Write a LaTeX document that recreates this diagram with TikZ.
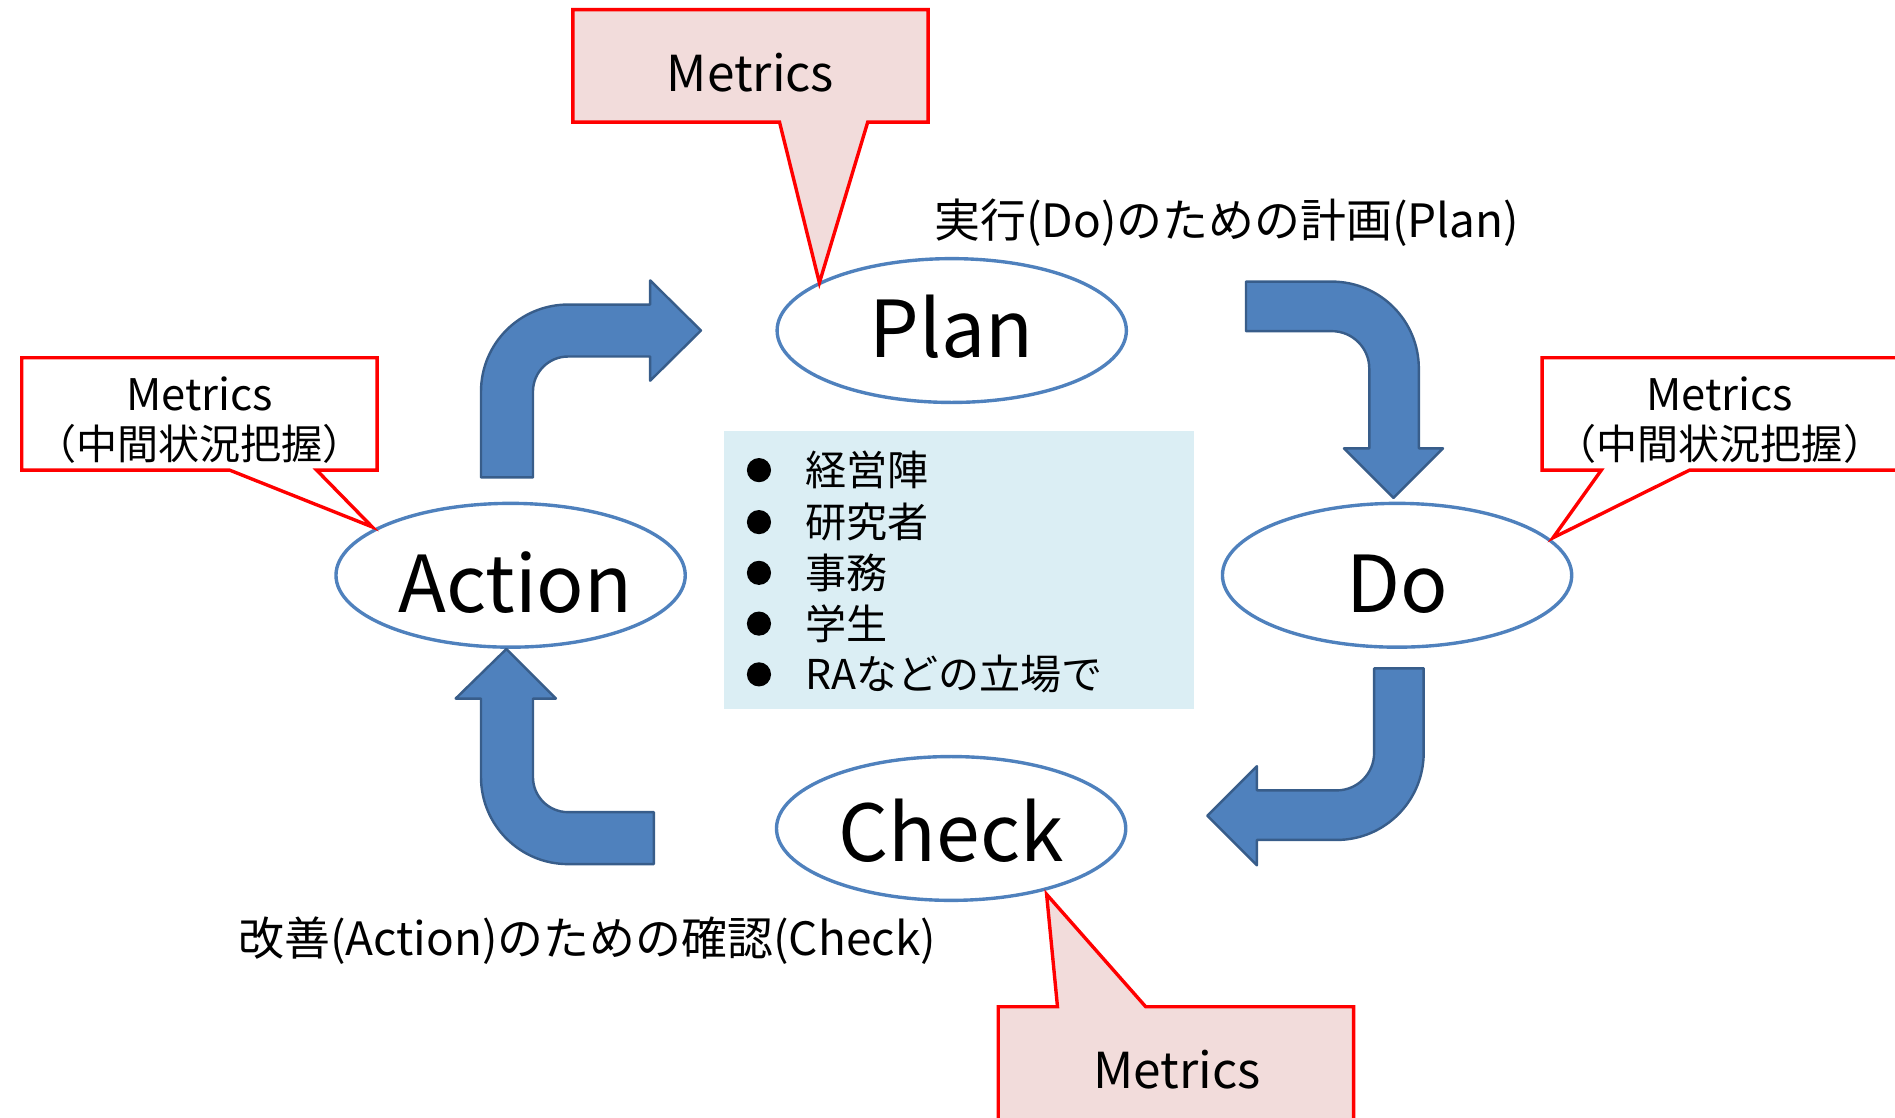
\documentclass[tikz,border=0pt]{standalone}
\usepackage{fontspec}
\setmainfont{Noto Sans CJK JP}
\usetikzlibrary{shapes.geometric}
\definecolor{arrowfill}{HTML}{4F81BD}
\definecolor{arrowline}{HTML}{385D8A}
\definecolor{calloutfill}{HTML}{F2DCDB}
\definecolor{listfill}{HTML}{DBEEF4}
% set a phase name with its capitals placed a given distance below the centre
\newcommand{\phasetext}[2]{\raisebox{-#1}[0pt][0pt]{#2}}

\begin{document}
\begin{tikzpicture}[x=1pt,y=-1pt,
  phase/.style={ellipse, draw=arrowfill, line width=2.8pt, fill=white,
    minimum width=289pt, minimum height=119pt, inner sep=0pt,
    font=\fontsize{65}{70}\selectfont},
  blockarrow/.style={fill=arrowfill, draw=arrowline, line width=2pt, line join=round},
  callout/.style={draw=red, line width=2.8pt, line join=miter},
  bigmetric/.style={inner sep=0pt, font=\fontsize{41}{45}\selectfont},
  sidemetric/.style={inner sep=0pt, font=\fontsize{36}{40}\selectfont},
  sidenote/.style={inner sep=0pt, font=\fontsize{34}{38}\selectfont},
  caption/.style={inner sep=0pt, anchor=west, font=\fontsize{38}{42}\selectfont},
  item/.style={inner sep=0pt, anchor=west, font=\fontsize{34}{38}\selectfont},
  dot/.style={circle, fill=black, minimum size=20pt, inner sep=0pt}]
\useasboundingbox (0,0) rectangle (1568,925);
\clip (0,0) rectangle (1568,925);

% the four phases
\node[phase] (plan)   at (787.5,273.5) {\phasetext{22.5pt}{Plan}};
\node[phase] (do)     at (1156,476)    {\phasetext{31pt}{Do}};
\node[phase] (check)  at (787,685.5)   {\phasetext{27.5pt}{Check}};
\node[phase] (action) at (422.5,476)   {\hspace*{8pt}\phasetext{31pt}{Action}};

% tips of the callouts, on the phase outlines
\coordinate (tipP) at (678,234);
\coordinate (tipA) at (308,436);
\coordinate (tipD) at (1285,445);
\coordinate (tipC) at (866,740);

% callouts
\draw[callout, fill=calloutfill] (474,8) -- (768,8) -- (768,101) -- (718,101)
  -- (tipP) -- (645,101) -- (474,101) -- cycle;
\draw[callout, fill=white] (18,296) -- (312,296) -- (312,389) -- (262,389)
  -- (tipA) -- (190,389) -- (18,389) -- cycle;
\draw[callout, fill=white] (1276,296) -- (1572,296) -- (1572,389) -- (1398,389)
  -- (tipD) -- (1325,389) -- (1276,389) -- cycle;
\draw[callout, fill=calloutfill] (826,833) -- (875,833) -- (tipC) -- (948,833)
  -- (1120,833) -- (1120,935) -- (826,935) -- cycle;

\node[bigmetric] (mP) at (621,60) {Metrics};
\node[bigmetric] (mC) at (974,885) {Metrics};
\node[sidemetric] (mA) at (165,326) {Metrics};
\node[sidenote]   (nA) at (165,367) {（中間状況把握）};
\node[sidemetric] (mD) at (1423,326) {Metrics};
\node[sidenote]   (nD) at (1423,367) {（中間状況把握）};

% curved block arrows
% Action -> Plan
\draw[blockarrow] (398,395) -- (398,324) arc[start angle=180, end angle=270, radius=72]
  -- (538,252) -- (538,232) -- (580,273.5) -- (538,315) -- (538,295) -- (470,295)
  arc[start angle=270, end angle=180, radius=29] -- (441,395) -- cycle;
% Plan -> Do
\draw[blockarrow] (1031,233) -- (1102,233) arc[start angle=270, end angle=360, radius=72]
  -- (1174,371) -- (1194,371) -- (1153,412) -- (1112,371) -- (1133,371) -- (1133,305)
  arc[start angle=0, end angle=-90, radius=31] -- (1031,274) -- cycle;
% Do -> Check
\draw[blockarrow] (1137,553) -- (1178,553) -- (1178,623) arc[start angle=0, end angle=90, radius=72]
  -- (1040,695) -- (1040,716) -- (999,675) -- (1040,634) -- (1040,654) -- (1106,654)
  arc[start angle=90, end angle=0, radius=31] -- cycle;
% Check -> Action
\draw[blockarrow] (541,672) -- (541,715) -- (470,715) arc[start angle=90, end angle=180, radius=72]
  -- (398,578) -- (377,578) -- (419,537) -- (460,578) -- (441,578) -- (441,643)
  arc[start angle=180, end angle=90, radius=29] -- cycle;

% captions
\node[caption] (capP) at (773,184) {実行(Do)のための計画(Plan)};
\node[caption] (capC) at (197,778) {改善(Action)のための確認(Check)};

% list of roles
\fill[listfill] (599,357) rectangle (988,587);
\node[dot] (d1) at (628,389) {};
\node[dot] (d2) at (628,432) {};
\node[dot] (d3) at (628,474) {};
\node[dot] (d4) at (628,516) {};
\node[dot] (d5) at (628,558) {};
\node[item] (i1) at (666,389) {経営陣};
\node[item] (i2) at (666,432) {研究者};
\node[item] (i3) at (666,474) {事務};
\node[item] (i4) at (666,516) {学生};
\node[item] (i5) at (666,558) {RAなどの立場で};
\end{tikzpicture}
\end{document}
